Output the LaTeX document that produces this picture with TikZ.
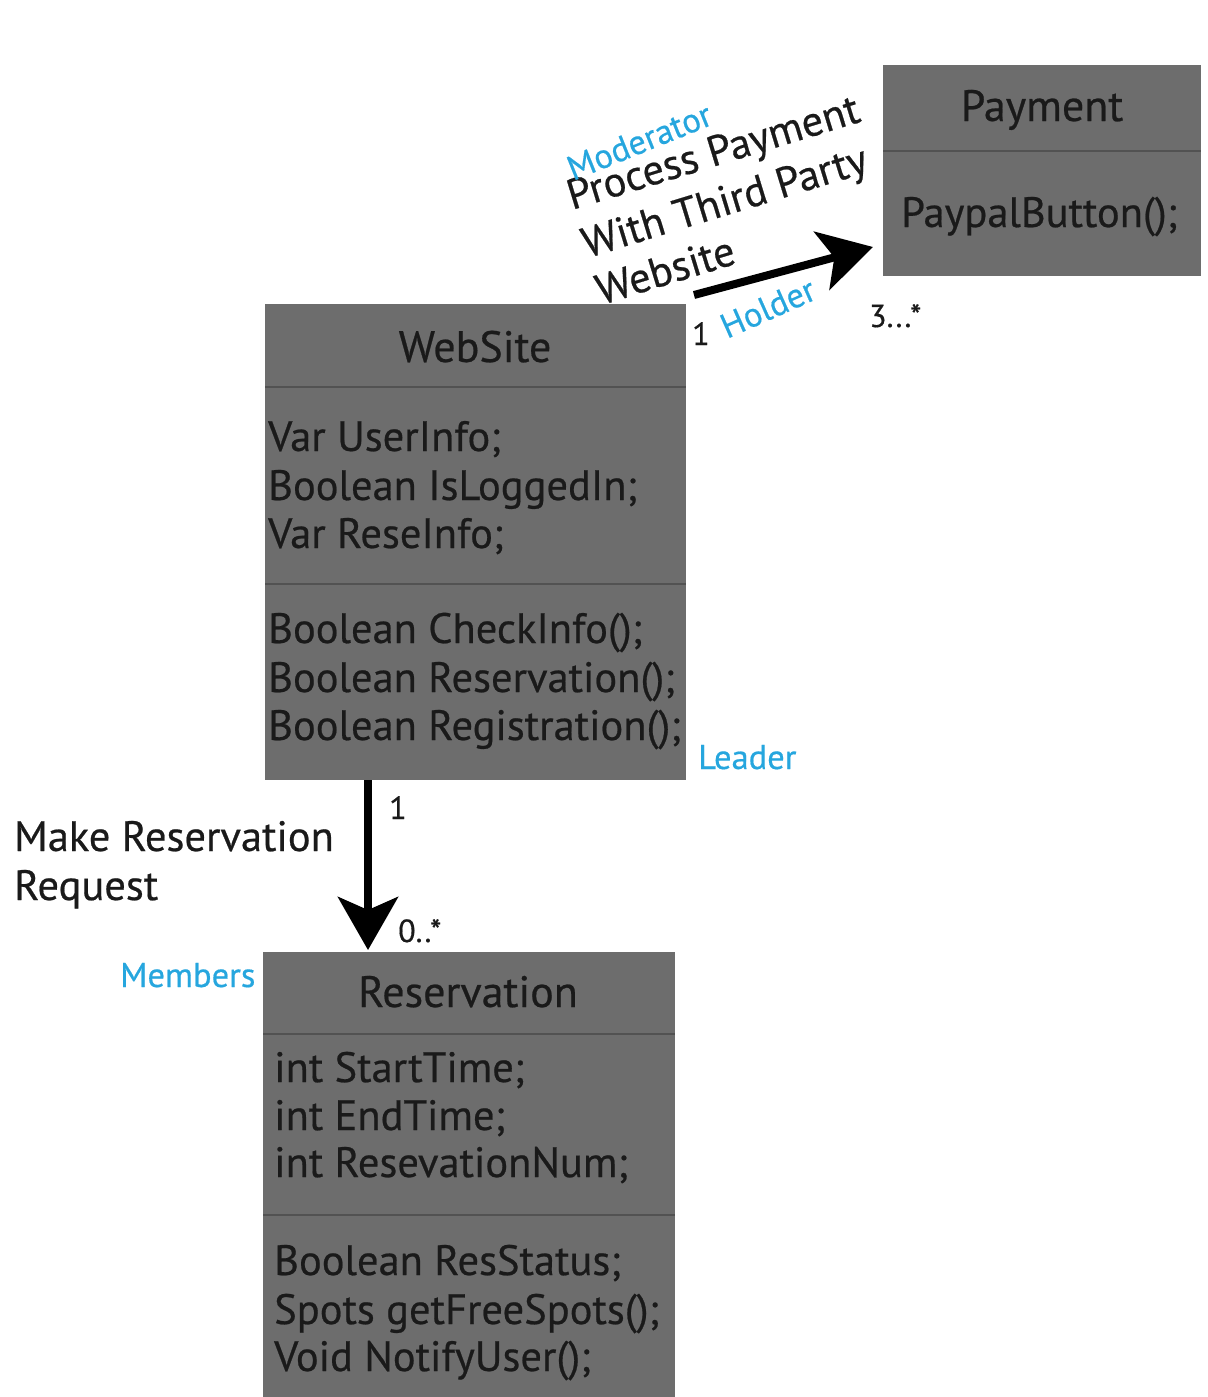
\documentclass[tikz,border=0pt]{standalone}
\usepackage{fontspec}
\setmainfont{PT Sans}[FakeBold=0.5]
\usetikzlibrary{arrows.meta,calc}
\definecolor{boxgrey}{RGB}{109,109,109}
\definecolor{rulegrey}{RGB}{82,82,82}
\definecolor{inkdark}{RGB}{26,26,26}
\definecolor{roleblue}{RGB}{38,166,222}
\newcommand\classfont{\fontsize{44}{52}\selectfont}
\newcommand\memberfont{\fontsize{42.5}{50}\selectfont}
\newcommand\rolefont{\fontsize{34.5}{40}\selectfont}
\newcommand\multfont{\fontsize{32}{38}\selectfont}
\tikzset{
  umlbox/.style={rectangle, fill=boxgrey, inner sep=0pt, outer sep=0pt, anchor=north west},
  divider/.style={draw=rulegrey, line width=2pt},
  classname/.style={text=inkdark, inner sep=0pt, anchor=base, font=\classfont},
  member/.style={text=inkdark, inner sep=0pt, anchor=base west, font=\memberfont},
  role/.style={text=roleblue, inner sep=0pt, anchor=base west, font=\rolefont},
  mult/.style={text=inkdark, inner sep=0pt, anchor=base west, font=\multfont},
  assoc/.style={draw=black, line width=8pt, -{Stealth[length=53pt,width=60pt,inset=13pt]}},
}
\begin{document}
\begin{tikzpicture}[x=1pt,y=-1pt]
\useasboundingbox (0,0) rectangle (1207,1397);

% class boxes
\node[umlbox, minimum width=318pt, minimum height=211pt] (pay) at (883,65) {};
\node[umlbox, minimum width=421pt, minimum height=476pt] (web) at (265,304) {};
\node[umlbox, minimum width=412pt, minimum height=445pt] (res) at (263,952) {};

% compartment rules
\draw[divider] (883,151) -- (1201,151);
\draw[divider] (265,387) -- (686,387);
\draw[divider] (265,584) -- (686,584);
\draw[divider] (263,1034) -- (675,1034);
\draw[divider] (263,1215) -- (675,1215);

% Payment
\node[classname] (payname) at (1042,121) {Payment};
\node[member] (pay1) at (901,227) {PaypalButton();};

% WebSite
\node[classname] (webname) at (475,362) {WebSite};
\node[member] (web1) at (268,451) {Var UserInfo;};
\node[member] (web2) at (268,500) {Boolean IsLoggedIn;};
\node[member] (web3) at (268,548) {Var ReseInfo;};
\node[member] (web4) at (268,643) {Boolean CheckInfo();};
\node[member] (web5) at (268,692) {Boolean Reservation();};
\node[member] (web6) at (268,740) {Boolean Registration();};

% Reservation
\node[classname] (resname) at (468,1007) {Reservation};
\node[member] (res1) at (274,1082) {int StartTime;};
\node[member] (res2) at (274,1130) {int EndTime;};
\node[member] (res3) at (274,1177) {int ResevationNum;};
\node[member] (res4) at (274,1275) {Boolean ResStatus;};
\node[member] (res5) at (274,1324) {Spots getFreeSpots();};
\node[member] (res6) at (274,1371) {Void NotifyUser();};

% associations
\draw[assoc] ($(web.north east)+(8,-9)$) -- ($(pay.south west)+(-10,-29)$);
\draw[assoc] ($(web.south west)+(103,0)$) -- ($(res.north west)+(105,-2)$);

% association labels
\node[member, rotate=17] (lbl1) at (572,210) {Process Payment};
\node[member, rotate=17] (lbl2) at (587,258) {With Third Party};
\node[member, rotate=17] (lbl3) at (601,305) {Website};
\node[member] (lbl4) at (14,851) {Make Reservation};
\node[member] (lbl5) at (14,900) {Request};

% roles
\node[role, rotate=22] (moderator) at (573,181) {Moderator};
\node[role, rotate=24] (holder) at (727,339) {Holder};
\node[role] (leader) at (698,769) {Leader};
\node[role] (members) at (120,987) {Members};

% multiplicities
\node[mult] (m1) at (692,345) {1};
\node[mult] (m2) at (869,327) {3...*};
\node[mult] (m3) at (389,819) {1};
\node[mult] (m4) at (398,942) {0..*};
\end{tikzpicture}
\end{document}
